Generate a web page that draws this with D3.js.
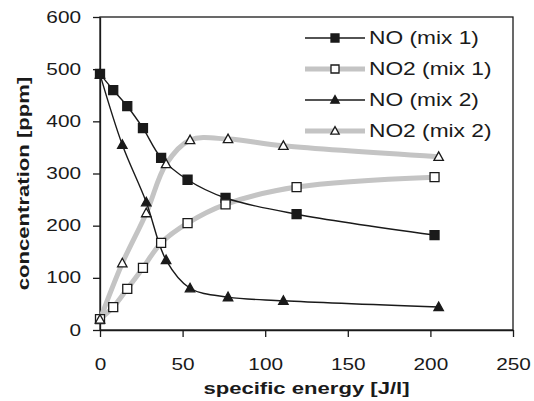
<!DOCTYPE html>
<html>
<head>
<meta charset="utf-8">
<script src="https://cdn.jsdelivr.net/npm/d3@7"></script>
<style>
  body { margin: 0; background: #fff; }
  svg { display: block; font-family: "Liberation Sans", Arial, sans-serif; }
</style>
</head>
<body>
<svg id="chart" width="534" height="401"></svg>
<script>
// values
const seriesNames = ["NO (mix 1)", "NO2 (mix 1)", "NO (mix 2)", "NO2 (mix 2)"]
const energyMix1 = [0, 8, 16.5, 26, 37, 53, 76, 119, 202.5]
const noMix1 = [491, 460, 429, 387, 330, 288, 253, 222, 182]
const no2Mix1 = [21, 44, 79, 119, 167, 205, 241, 274, 293]
const energyMix2 = [0, 13.5, 28, 40, 54.5, 77.5, 111, 205]
const noMix2 = [490, 355, 245, 134, 80, 63, 56, 44]
const no2Mix2 = [20, 128, 224, 318, 364, 366, 353, 332]
const xTicks = [0, 50, 100, 150, 200, 250]
const yTicks = [0, 100, 200, 300, 400, 500, 600]

const STRETCH = 1.3
const GREY = "#c4c4c4"
const INK = "#1a1a1a"

const margin = { top: 17, right: 21, bottom: 71, left: 100 }
const width = 534 - margin.left - margin.right
const height = 401 - margin.top - margin.bottom

const svg = d3.select("#chart")
const chart = svg.append("g")
    .attr("transform", `translate(${margin.left}, ${margin.top})`)

const xScale = d3.scaleLinear().domain([0, 250]).range([0, width])
const yScale = d3.scaleLinear().domain([0, 600]).range([height, 0])

const series = [
    { name: seriesNames[0], xs: energyMix1, ys: noMix1, grey: false, marker: "square", filled: true },
    { name: seriesNames[1], xs: energyMix1, ys: no2Mix1, grey: true, marker: "square", filled: false },
    { name: seriesNames[2], xs: energyMix2, ys: noMix2, grey: false, marker: "triangle", filled: true },
    { name: seriesNames[3], xs: energyMix2, ys: no2Mix2, grey: true, marker: "triangle", filled: false }
]
series.forEach(s => { s.points = s.xs.map((x, i) => ({ x: x, y: s.ys[i] })) })

// frame
chart.append("rect")
    .attr("width", width).attr("height", height)
    .attr("fill", "none").attr("stroke", INK).attr("stroke-width", 1.3)

const xAxis = d3.axisBottom(xScale).tickValues(xTicks).tickSize(7).tickPadding(22).tickSizeOuter(0)
const yAxis = d3.axisLeft(yScale).tickValues(yTicks).tickSize(7).tickSizeOuter(0)

const xAxisGroup = chart.append("g")
    .attr("transform", `translate(0, ${height})`)
    .call(xAxis)
const yAxisGroup = chart.append("g").call(yAxis)

;[xAxisGroup, yAxisGroup].forEach(g => {
    g.select(".domain").attr("stroke", INK).attr("stroke-width", 1.3)
    g.selectAll(".tick line").attr("stroke", INK).attr("stroke-width", 1.3)
    g.selectAll(".tick text")
        .attr("fill", INK)
        .style("font-size", "16px")
        .attr("transform", `scale(${STRETCH},1)`)
})
yAxisGroup.selectAll(".tick text").attr("x", -19 / STRETCH)

// lines
const line = d3.line()
    .x(d => xScale(d.x))
    .y(d => yScale(d.y))
    .curve(d3.curveCatmullRom.alpha(0.5))

const greyFirst = series.filter(s => s.grey).concat(series.filter(s => !s.grey))
chart.selectAll(".series-line")
    .data(greyFirst)
    .join("path")
        .attr("class", "series-line")
        .attr("d", d => line(d.points))
        .attr("fill", "none")
        .attr("stroke", d => d.grey ? GREY : INK)
        .attr("stroke-width", d => d.grey ? 5 : 1.4)

function markerPath(type, size) {
    const h = size / 2
    if (type === "square") return `M${-h},${-h}H${h}V${h}H${-h}Z`
    return `M0,${-h * 1.1}L${h * 1.05},${h * 0.8}L${-h * 1.05},${h * 0.8}Z`
}

series.forEach(s => {
    chart.append("g")
        .selectAll("path")
        .data(s.points)
        .join("path")
            .attr("transform", d => `translate(${xScale(d.x)}, ${yScale(d.y)})`)
            .attr("d", markerPath(s.marker, s.marker === "square" ? 9 : 9))
            .attr("fill", s.filled ? INK : "#fff")
            .attr("stroke", INK)
            .attr("stroke-width", 1.3)
})

// axis titles
svg.append("text")
    .attr("transform", `translate(306.5, 394) scale(${STRETCH},1)`)
    .attr("text-anchor", "middle")
    .attr("fill", INK)
    .style("font-size", "17px").style("font-weight", "bold")
    .text("specific energy [J/l]")

svg.append("text")
    .attr("transform", `translate(29, 183.5) rotate(-90) scale(${STRETCH},1)`)
    .attr("text-anchor", "middle")
    .attr("fill", INK)
    .style("font-size", "17px").style("font-weight", "bold")
    .text("concentration [ppm]")

// legend
const legend = svg.append("g")
const rows = legend.selectAll("g")
    .data(series)
    .join("g")
        .attr("transform", (d, i) => `translate(305, ${38 + i * 31})`)

rows.append("line")
    .attr("x1", 0).attr("x2", 60)
    .attr("stroke", d => d.grey ? GREY : INK)
    .attr("stroke-width", d => d.grey ? 5 : 1.4)
rows.append("path")
    .attr("transform", "translate(30, 0)")
    .attr("d", d => markerPath(d.marker, 8))
    .attr("fill", d => d.filled ? INK : "#fff")
    .attr("stroke", INK)
    .attr("stroke-width", 1.3)
rows.append("text")
    .attr("transform", `translate(64, 0) scale(${STRETCH},1)`)
    .attr("dy", "0.36em")
    .attr("fill", INK)
    .style("font-size", "17.5px")
    .text(d => d.name)
</script>
</body>
</html>
